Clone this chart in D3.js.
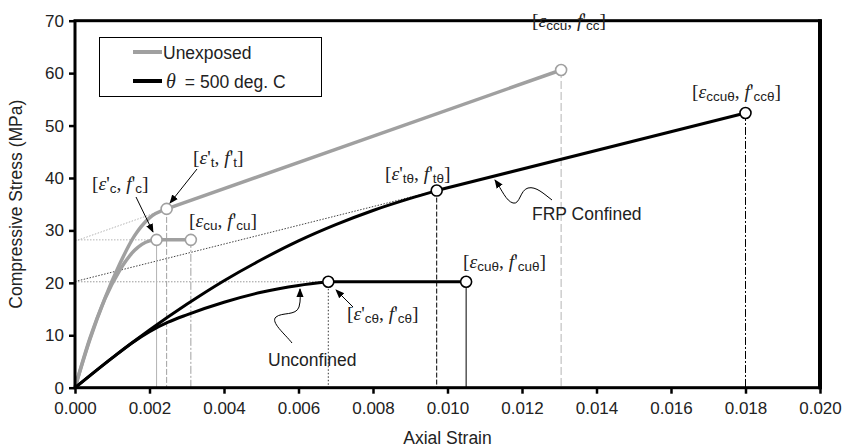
<!DOCTYPE html>
<html><head><meta charset="utf-8">
<script src="https://cdn.jsdelivr.net/npm/d3@7"></script>
<style>body{margin:0;background:#fff}svg{display:block}</style>
</head><body>
<svg id="chart" width="845" height="447"></svg>
<script>
// ---------------- DATA ----------------
const xTickValues = [0,0.002,0.004,0.006,0.008,0.010,0.012,0.014,0.016,0.018,0.020];
const yTickValues = [0,10,20,30,40,50,60,70];

// Unexposed, unconfined (ascending branch + plateau)
const unexpUnconfStrain = [0,0.0004,0.0008,0.0012,0.0016,0.0020,0.00219];
const unexpUnconfStress = [0,9.4,16.9,22.4,26.2,28.0,28.2];
const unexpUnconfEnd = [0.00311, 28.2];

// Unexposed, FRP confined (parabolic branch + linear branch)
const unexpConfStrain = [0,0.0004,0.0008,0.0012,0.0016,0.0020,0.00246];
const unexpConfStress = [0,9.2,17.0,23.6,29.0,32.4,34.1];
const unexpConfEnd = [0.01305, 60.6];
const unexpIntercept = 27.95;

// 500 deg. C, unconfined
const hotUnconfStrain = [0,0.001,0.0015,0.002,0.0025,0.003,0.004,0.005,0.006,0.0068];
const hotUnconfStress = [0,5.7,8.4,10.7,12.5,13.9,16.3,18.2,19.5,20.2];
const hotUnconfEnd = [0.0105, 20.2];

// 500 deg. C, FRP confined
const hotConfStrain = [0,0.001,0.002,0.003,0.004,0.005,0.006,0.007,0.008,0.009,0.00971];
const hotConfStress = [0,5.7,11.0,15.9,20.4,24.4,28.0,31.1,33.8,36.1,37.6];
const hotConfEnd = [0.0180, 52.4];
const hotIntercept = 20.25;

const legendLabels = ["Unexposed", "= 500 deg. C"];

// ---------------- LAYOUT ----------------
const svg = d3.select("#chart");
const M = {l:75, r:820, t:20.7, b:387.7};
const x = d3.scaleLinear().domain([0,0.02]).range([M.l, M.r]);
const y = d3.scaleLinear().domain([0,70]).range([M.b, M.t]);
const GRAY = "#a0a0a0", GUIDE = "#b4b4b4";
const SANS = "'Liberation Sans', Arial, Helvetica, sans-serif";
const SERIF = "'Liberation Serif', 'Times New Roman', serif";

const defs = svg.append("defs");
defs.append("marker").attr("id","arr").attr("viewBox","0 0 10 10").attr("refX",9).attr("refY",5)
  .attr("markerWidth",9).attr("markerHeight",9).attr("markerUnits","userSpaceOnUse").attr("orient","auto")
  .append("path").attr("d","M0,1 L10,5 L0,9 Z").attr("fill","#000");

const zip = (a,b) => a.map((v,i)=>[v,b[i]]);
const line = d3.line().x(d=>x(d[0])).y(d=>y(d[1]));
const curve = d3.line().x(d=>x(d[0])).y(d=>y(d[1])).curve(d3.curveMonotoneX);

// guide lines (dotted)
const gGuide = svg.append("g").attr("fill","none");
function guide(p, color, dash){
  gGuide.append("path").attr("d", line(p)).attr("stroke",color).attr("stroke-width",1).attr("stroke-dasharray",dash);
}
const ucPk = [unexpUnconfStrain.at(-1), unexpUnconfStress.at(-1)];
const ctPk = [unexpConfStrain.at(-1), unexpConfStress.at(-1)];
const hcPk = [hotUnconfStrain.at(-1), hotUnconfStress.at(-1)];
const htPk = [hotConfStrain.at(-1), hotConfStress.at(-1)];
guide([[0,ucPk[1]], ucPk], GUIDE, "1.5,1.5");
guide([[0,unexpIntercept], ctPk], GUIDE, "1.5,1.5");
guide([[0,hcPk[1]], hcPk], "#9a9a9a", "1.5,1.5");
guide([[0,hotIntercept], htPk], "#444", "1.5,1.5");

// drop lines
function drop(p, color, dash){
  gGuide.append("path").attr("d", line([p,[p[0],0]])).attr("stroke",color).attr("stroke-width",1)
    .attr("stroke-dasharray",dash);
}
drop(ucPk, GUIDE, null);
drop(ctPk, GRAY, "6,2");
drop(unexpUnconfEnd, GRAY, "8,2,2,2");
drop(unexpConfEnd, GUIDE, "8,3");
drop(hcPk, "#333", "1.5,2");
drop(htPk, "#000", "5,2");
drop(hotUnconfEnd, "#000", null);
drop(hotConfEnd, "#000", "8,2,2,2");

// curves
const gC = svg.append("g").attr("fill","none").attr("stroke-linejoin","round");
function series(strain, stress, end, color, w){
  const pts = zip(strain, stress);
  gC.append("path").attr("d", curve(pts)).attr("stroke",color).attr("stroke-width",w);
  gC.append("path").attr("d", line([pts.at(-1), end])).attr("stroke",color).attr("stroke-width",w);
}
series(unexpUnconfStrain, unexpUnconfStress, unexpUnconfEnd, GRAY, 3.5);
series(unexpConfStrain, unexpConfStress, unexpConfEnd, GRAY, 3.5);
series(hotUnconfStrain, hotUnconfStress, hotUnconfEnd, "#000", 3);
series(hotConfStrain, hotConfStress, hotConfEnd, "#000", 3);

// axes
const xAxis = d3.axisBottom(x).tickValues(xTickValues).tickFormat(d3.format(".3f")).tickSize(6).tickPadding(8);
const yAxis = d3.axisLeft(y).tickValues(yTickValues).tickFormat(d3.format("d")).tickSize(6).tickPadding(5);
const gx = svg.append("g").attr("transform",`translate(0,${M.b})`).call(xAxis);
const gy = svg.append("g").attr("transform",`translate(${M.l},0)`).call(yAxis);
[gx,gy].forEach(g=>{
  g.select(".domain").remove();
  g.selectAll(".tick line").attr("stroke","#000").attr("stroke-width",2.5);
  g.selectAll("text").attr("font-family",SANS).attr("font-size",17).attr("fill","#222");
});
// frame
svg.append("rect").attr("x",M.l).attr("y",M.t).attr("width",M.r-M.l).attr("height",M.b-M.t)
  .attr("fill","none").attr("stroke","#000").attr("stroke-width",3);
svg.append("line").attr("x1",M.r).attr("x2",M.r).attr("y1",M.t-1.5).attr("y2",M.b+1.5).attr("stroke","#000").attr("stroke-width",4);

// point markers
const gP = svg.append("g");
[[ucPk,GRAY],[ctPk,GRAY],[unexpUnconfEnd,GRAY],[unexpConfEnd,GRAY],
 [hcPk,"#000"],[htPk,"#000"],[hotUnconfEnd,"#000"],[hotConfEnd,"#000"]].forEach(([p,c])=>{
  gP.append("circle").attr("cx",x(p[0])).attr("cy",y(p[1])).attr("r",5.5)
    .attr("fill","#fff").attr("stroke",c).attr("stroke-width",1.6);
});

// axis titles
svg.append("text").attr("x",(M.l+M.r)/2).attr("y",444).attr("text-anchor","middle")
  .attr("font-family",SANS).attr("font-size",17.5).attr("fill","#222").text("Axial Strain");
svg.append("text").attr("transform",`translate(22,${(M.t+M.b)/2}) rotate(-90)`).attr("text-anchor","middle")
  .attr("font-family",SANS).attr("font-size",17.5).attr("fill","#222").text("Compressive Stress (MPa)");

// legend
const lg = svg.append("g");
lg.append("rect").attr("x",99.5).attr("y",37.5).attr("width",222).attr("height",59)
  .attr("fill","#fff").attr("stroke","#000").attr("stroke-width",1);
lg.append("line").attr("x1",133).attr("x2",162).attr("y1",52).attr("y2",52).attr("stroke",GRAY).attr("stroke-width",4);
lg.append("line").attr("x1",133).attr("x2",162).attr("y1",81).attr("y2",81).attr("stroke","#000").attr("stroke-width",4);
lg.append("text").attr("x",163).attr("y",58.5).attr("font-family",SANS).attr("font-size",17.5).attr("fill","#222").text(legendLabels[0]);
const lt = lg.append("text").attr("x",166).attr("y",87.5).attr("fill","#222");
lt.append("tspan").attr("font-family",SERIF).attr("font-style","italic").attr("font-size",20).text("θ");
lt.append("tspan").attr("font-family",SANS).attr("font-size",17.5).attr("dx",9).text(legendLabels[1]);

// annotation labels
function ann(xp, yp, parts){
  const t = svg.append("text").attr("x",xp).attr("y",yp).attr("fill","#222");
  let sub = false;
  parts.forEach(([s,k])=>{
    const ts = t.append("tspan").text(s);
    if(k==="sub"){
      ts.attr("font-family",SANS).attr("font-size",13.5);
      if(!sub){ ts.attr("dy",3); sub=true; }
    } else {
      if(sub){ ts.attr("dy",-3); sub=false; }
      ts.attr("font-family",SERIF).attr("font-size",19.5);
      if(k==="it") ts.attr("font-style","italic");
    }
  });
}
const E=["ε","it"], F=["f","it"], P=["'","n"], L=["[","n"], R=["]","n"], C=[", ","n"];
ann(532,26.5,[L,E,["ccu","sub"],C,F,P,["cc","sub"],R]);
ann(692,98,[L,E,["ccuθ","sub"],C,F,P,["ccθ","sub"],R]);
ann(385,180,[L,E,P,["tθ","sub"],C,F,P,["tθ","sub"],R]);
ann(193,163.5,[L,E,P,["t","sub"],C,F,P,["t","sub"],R]);
ann(92,189.5,[L,E,P,["c","sub"],C,F,P,["c","sub"],R]);
ann(189,226.5,[L,E,["cu","sub"],C,F,P,["cu","sub"],R]);
ann(463,268,[L,E,["cuθ","sub"],C,F,P,["cuθ","sub"],R]);
ann(347,320,[L,E,P,["cθ","sub"],C,F,P,["cθ","sub"],R]);

// text notes
svg.append("text").attr("x",532).attr("y",220).attr("font-family",SANS).attr("font-size",17.5).attr("fill","#222").text("FRP Confined");
svg.append("text").attr("x",268).attr("y",366).attr("font-family",SANS).attr("font-size",17.5).attr("fill","#222").text("Unconfined");

// arrows
const gA = svg.append("g").attr("fill","none").attr("stroke","#000").attr("stroke-width",1);
gA.append("path").attr("d","M197,169 L170,203").attr("marker-end","url(#arr)");
gA.append("path").attr("d","M136,197 L153,232").attr("marker-end","url(#arr)");
gA.append("path").attr("d","M353,307 L336,290").attr("marker-end","url(#arr)");
gA.append("path").attr("d","M552,200 C544,194 536,186 528,188 C520,190 520,205 513,203 C506,201 502,190 495,180").attr("marker-end","url(#arr)");
gA.append("path").attr("d","M292,343 C285,334 270,322 276,317 C282,312 296,316 299,307 C301,300 300,294 300,289").attr("marker-end","url(#arr)");
</script>
</body></html>
